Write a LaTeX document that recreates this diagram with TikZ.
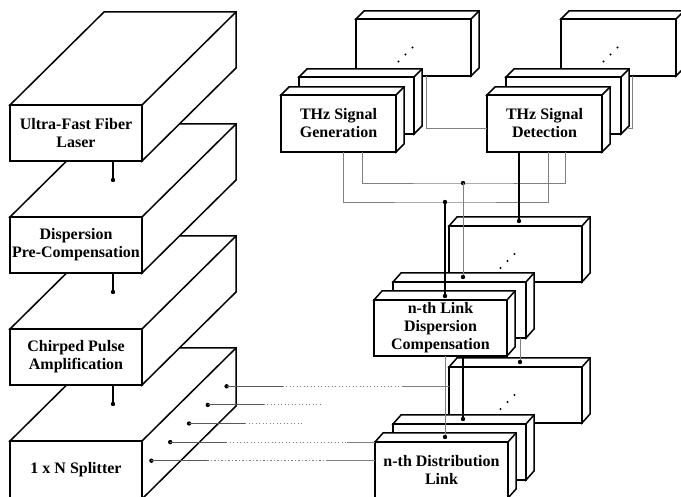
\documentclass[tikz,border=0pt]{standalone}
\usepackage{fontspec}
\setmainfont{Liberation Serif}
\usetikzlibrary{calc}
\definecolor{wiregray}{gray}{0.5}

\tikzset{
  face/.style={draw, fill=white, line width=1.5pt},
  front/.style={face, outer sep=0pt, inner sep=1pt, align=center,
    font=\bfseries\fontsize{16}{18}\selectfont},
  link/.style={wiregray, line width=0.8pt},
  wire/.style={black, line width=1.1pt},
  tap/.style={black!65, line width=0.9pt},
  faint/.style={wiregray, line width=0.9pt, dash pattern=on 1.1pt off 2.4pt}
}

% one box: name, north west corner of the front, width, height, depth, text
\newcommand{\slabbox}[6]{%
  \node[front, minimum width=#3, minimum height=#4, anchor=north west] (#1) at #2 {#6};
  \draw[face] (#1.north west) -- ++#5 -- ++(#3,0) coordinate (#1-bne)
    -- ++(0,#4) -- (#1.south east) -- (#1.north east) -- cycle;
  \draw[face] (#1.north east) -- (#1-bne);
}
% the three small dots on a back box
\newcommand{\moredots}[1]{%
  \foreach \k in {0,1,2}
    \fill ($(#1.center)+(-15+7*\k,14-7*\k)$) circle (1.2pt);
}

\begin{document}
\begin{tikzpicture}[x=1pt,y=-1pt]
  \useasboundingbox (0,0) rectangle (681,497);
  % left column, drawn from the bottom up
  \slabbox{spl}{(10,441)}{132}{58}{(94,-93)}{1 x N Splitter}
  \slabbox{cpa}{(10,329)}{132}{56}{(94,-93)}{Chirped Pulse\\Amplification}
  \slabbox{dpc}{(10,217)}{132}{56}{(94,-93)}{Dispersion\\Pre-Compensation}
  \slabbox{ufl}{(10,105)}{132}{56}{(94,-93)}{Ultra-Fast Fiber\\Laser}
  % links between the left boxes
  \foreach \a/\b in {ufl/dpc, dpc/cpa, cpa/spl} {
    \draw[wire] ($(\a.south west)+(103,0)$) -- ($(\b.north west)+(103,-37)$);
    \fill ($(\b.north west)+(103,-37)$) circle (2.2pt);
  }
  % THz generation stack
  \slabbox{gen3}{(356,19)}{115}{57}{(8,-8)}{}
  \slabbox{gen2}{(299,77)}{115}{57}{(8,-8)}{}
  \slabbox{gen}{(281,95)}{115}{57}{(8,-8)}{THz Signal\\Generation}
  % THz detection stack
  \slabbox{det3}{(561,19)}{115}{57}{(8,-8)}{}
  \slabbox{det2}{(506,77)}{115}{57}{(8,-8)}{}
  \slabbox{det}{(487,95)}{115}{57}{(8,-8)}{THz Signal\\Detection}
  % dispersion compensation stack
  \slabbox{lnk3}{(449,226)}{133}{56}{(8,-9)}{}
  \slabbox{lnk2}{(393,282)}{133}{56}{(8,-9)}{}
  \slabbox{lnk}{(374,300)}{133}{56}{(8,-9)}{n-th Link\\Dispersion\\Compensation}
  % distribution link stack
  \slabbox{dst3}{(449,367)}{133}{56}{(8,-9)}{}
  \slabbox{dst2}{(393,424)}{133}{56}{(8,-9)}{}
  \slabbox{dst}{(375,442)}{133}{56}{(8,-9)}{n-th Distribution\\Link}
  \moredots{gen3}
  \moredots{det3}
  \moredots{lnk3}
  \moredots{dst3}
  % generation and detection loops
  \coordinate (jA) at (463,183);
  \coordinate (jB) at (445,202);
  \draw[link] ($(gen.south west)+(81,0)$) |- (jA) -| ($(det.south west)+(78,0)$);
  \draw[link] ($(gen.south west)+(62,0)$) |- (jB) -| ($(det.south west)+(61,0)$);
  \fill (jA) circle (2.2pt);
  \fill (jB) circle (2.2pt);
  \draw[link] ($(gen3.south west)+(70,0)$) |- ($(det.south west)+(0,-24)$);
  \draw[link] ($(det3.south west)+(71,0)$) -- ++(0,52) -- ++(-5,0);
  % into the dispersion compensation stack
  \draw[wire] (jB) -- ($(jB |- lnk.north)+(0,-4)$) coordinate (eB);
  \draw[link] (jA) -- ($(jA |- lnk2.north)+(0,-5)$) coordinate (eA);
  \draw[wire] ($(det.south west)+(32,0)$) -- ($(lnk3.north west)+(70,-5)$) coordinate (eC);
  \foreach \p in {eA,eB,eC} \fill (\p) circle (2.2pt);
  % into the distribution link stack
  \draw[link] ($(lnk.south west)+(71,0)$) -- ($(dst.north west)+(70,-5)$) coordinate (fA);
  \draw[wire] ($(lnk.south west)+(89,0)$) -- ($(dst2.north west)+(70,-5)$) coordinate (fB);
  \draw[link] ($(lnk2.south west)+(127,0)$) -- ($(dst3.north west)+(71,-5)$) coordinate (fC);
  \foreach \p in {fA,fB,fC} \fill (\p) circle (2.2pt);
  % splitter outputs
  \coordinate (sbk) at ($(spl.east)+(94,-93)$);
  \foreach \t/\e [count=\i] in {0.9/403, 0.7/320, 0.5/302, 0.3/347, 0.1/328} {
    \coordinate (s\i) at ($(spl.east)!\t!(sbk)$);
    \fill (s\i) circle (2.2pt);
    \draw[tap] (s\i) -- ++(56,0) coordinate (s\i m);
    \draw[faint] (s\i m) -- (s\i m -| \e,0);
  }
  \draw[link] (s1 -| 403,0) -- (s1 -| dst3.west);
  \draw[link] (s4 -| 347,0) -- (s4 -| dst.west);
  \draw[link] (s5 -| 328,0) -- (s5 -| dst.west);
\end{tikzpicture}
\end{document}
